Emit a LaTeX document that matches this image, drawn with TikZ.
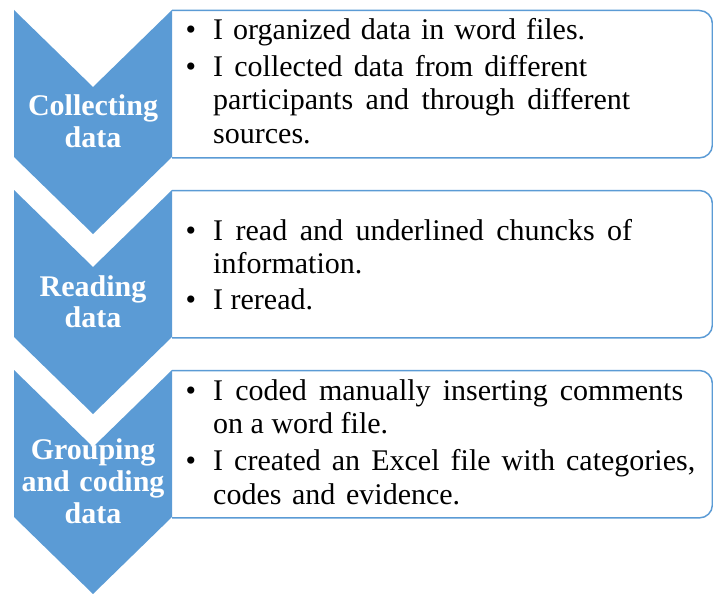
\documentclass[tikz,border=0pt]{standalone}
\usepackage{fontspec}
\setmainfont{Liberation Serif}
\definecolor{chevblue}{HTML}{5B9BD5}
\newcommand{\bul}{\llap{•\hspace{17pt}}}
\begin{document}
\begin{tikzpicture}[x=1pt,y=-1pt,
  chev/.style={fill=chevblue},
  boxline/.style={draw=chevblue, line width=1.5pt, rounded corners=13pt},
  frame/.style={rectangle, inner sep=0pt, minimum width=540pt, minimum height=147pt, anchor=north west},
  body/.style={anchor=base west, inner sep=0pt, font=\fontsize{30}{33}\selectfont},
  lab/.style={anchor=base, inner sep=0pt, text=white, font=\bfseries\fontsize{30}{32}\selectfont}]
\useasboundingbox (0,0) rectangle (713,594);

% frames of the text boxes
\node[frame] (box1) at (172,10.5) {};
\node[frame] (box2) at (172,190.5) {};
\node[frame] (box3) at (172,370.5) {};
\draw[boxline] (box1.north west) -- (box1.north east) -- (box1.south east) -- (box1.south west);
\draw[boxline] (box2.north west) -- (box2.north east) -- (box2.south east) -- (box2.south west);
\draw[boxline] (box3.north west) -- (box3.north east) -- (box3.south east) -- (box3.south west);

% chevrons
\fill[chev] (14,10) -- (93,87) -- (172,10) -- (172,157) -- (93,234) -- (14,157) -- cycle;
\fill[chev] (14,190) -- (93,267) -- (172,190) -- (172,337) -- (93,414) -- (14,337) -- cycle;
\fill[chev] (14,370) -- (93,447) -- (172,370) -- (172,517) -- (93,594) -- (14,517) -- cycle;

% chevron labels
\node[lab] (c1a) at (93,115.5) {Collecting};
\node[lab] (c1b) at (93,147) {data};
\node[lab] (c2a) at (93,296) {Reading};
\node[lab] (c2b) at (93,327) {data};
\node[lab] (c3a) at (93,459) {Grouping};
\node[lab] (c3b) at (93,491.5) {\makebox[143pt][s]{and coding}};
\node[lab] (c3c) at (93,523) {data};

% box 1 text
\node[body] (t1a) at (213,40) {\bul\makebox[372pt][s]{I organized data in word files.}};
\node[body] (t1b) at (213,77) {\bul\makebox[374pt][s]{I collected data from different}};
\node[body] (t1c) at (213,110) {\makebox[417pt][s]{participants and through different}};
\node[body] (t1d) at (213,143) {sources.};

% box 2 text
\node[body] (t2a) at (213,240) {\bul\makebox[419pt][s]{I read and underlined chuncks of}};
\node[body] (t2b) at (213,273) {information.};
\node[body] (t2c) at (213,309) {\bul I reread.};

% box 3 text
\node[body] (t3a) at (213,400) {\bul\makebox[470pt][s]{I coded manually inserting comments}};
\node[body] (t3b) at (213,433) {on a word file.};
\node[body] (t3c) at (213,470) {\bul\makebox[482pt][s]{I created an Excel file with categories,}};
\node[body] (t3d) at (213,504) {\makebox[247pt][s]{codes and evidence.}};
\end{tikzpicture}
\end{document}
